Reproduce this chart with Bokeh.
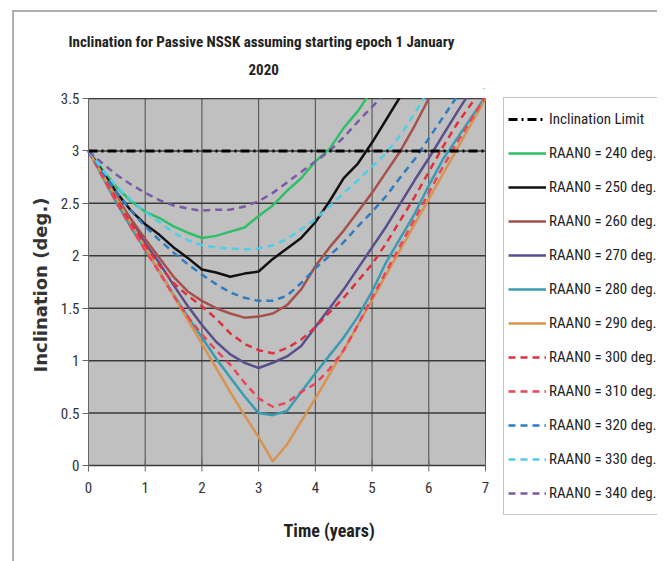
import math
from bokeh.plotting import figure
from bokeh.models import (Legend, LegendItem, Title, FixedTicker, Range1d, BoxAnnotation,
                          InlineStyleSheet)
from bokeh.core.properties import value
from bokeh.embed import file_html
from bokeh.resources import INLINE

# ---- data ----
years = [0.0, 0.25, 0.5, 0.75, 1.0, 1.25, 1.5, 1.75, 2.0, 2.25, 2.5, 2.75, 3.0, 3.25,
         3.5, 3.75, 4.0, 4.25, 4.5, 4.75, 5.0, 5.25, 5.5, 5.75, 6.0, 6.25, 6.5, 6.75, 7.0]

limit_x = [0.0, 7.0]
limit_y = [3.0, 3.0]

raan240 = [3.0, 2.82, 2.65, 2.52, 2.42, 2.36, 2.28, 2.22, 2.17, 2.19, 2.23, 2.27, 2.38, 2.48,
           2.62, 2.74, 2.9, 3.02, 3.22, 3.38, 3.58]
raan250 = [3.0, 2.8, 2.6, 2.43, 2.3, 2.2, 2.08, 1.98, 1.87, 1.84, 1.8, 1.83, 1.85, 1.97,
           2.07, 2.17, 2.32, 2.52, 2.74, 2.88, 3.08, 3.3, 3.52]
raan260 = [3.0, 2.78, 2.56, 2.35, 2.16, 1.98, 1.8, 1.66, 1.57, 1.5, 1.45, 1.41, 1.42, 1.45,
           1.53, 1.68, 1.9, 2.08, 2.24, 2.42, 2.6, 2.8, 3.0, 3.24, 3.5]
raan270 = [3.0, 2.77, 2.54, 2.32, 2.12, 1.93, 1.72, 1.52, 1.34, 1.18, 1.06, 0.98, 0.93, 0.98,
           1.04, 1.14, 1.32, 1.5, 1.68, 1.88, 2.08, 2.28, 2.5, 2.72, 2.93, 3.15, 3.37, 3.58]
raan280 = [3.0, 2.75, 2.5, 2.27, 2.06, 1.85, 1.63, 1.42, 1.22, 1.02, 0.84, 0.66, 0.5, 0.48,
           0.52, 0.7, 0.88, 1.05, 1.22, 1.42, 1.66, 1.94, 2.17, 2.4, 2.67, 2.92, 3.12, 3.32, 3.52]
raan290 = [3.0, 2.77, 2.54, 2.31, 2.08, 1.85, 1.62, 1.39, 1.16, 0.93, 0.7, 0.48, 0.27, 0.04,
           0.2, 0.42, 0.64, 0.87, 1.1, 1.34, 1.58, 1.82, 2.06, 2.3, 2.54, 2.78, 3.02, 3.26, 3.5]
raan300 = [3.0, 2.76, 2.53, 2.31, 2.1, 1.91, 1.74, 1.62, 1.52, 1.4, 1.26, 1.16, 1.1, 1.07,
           1.12, 1.2, 1.32, 1.46, 1.6, 1.76, 1.92, 2.12, 2.34, 2.56, 2.8, 3.04, 3.26, 3.45, 3.62]
raan310 = [3.0, 2.75, 2.5, 2.27, 2.05, 1.84, 1.62, 1.42, 1.25, 1.1, 0.96, 0.79, 0.64, 0.56,
           0.6, 0.7, 0.78, 0.92, 1.1, 1.34, 1.6, 1.85, 2.1, 2.35, 2.6, 2.85, 3.08, 3.3, 3.52]
raan320 = [3.0, 2.8, 2.6, 2.43, 2.28, 2.15, 2.03, 1.92, 1.82, 1.73, 1.65, 1.6, 1.57, 1.57,
           1.62, 1.74, 1.88, 2.0, 2.13, 2.28, 2.42, 2.57, 2.75, 2.92, 3.12, 3.32, 3.52]
raan330 = [3.0, 2.82, 2.66, 2.53, 2.42, 2.32, 2.22, 2.15, 2.1, 2.08, 2.07, 2.06, 2.07, 2.1,
           2.16, 2.25, 2.35, 2.47, 2.6, 2.72, 2.85, 2.98, 3.15, 3.36, 3.58]
raan340 = [3.0, 2.88, 2.77, 2.68, 2.6, 2.53, 2.48, 2.45, 2.43, 2.44, 2.44, 2.47, 2.52, 2.6,
           2.7, 2.8, 2.9, 3.0, 3.13, 3.28, 3.42, 3.56]

series_labels = ["RAAN0 = 240 deg.", "RAAN0 = 250 deg.", "RAAN0 = 260 deg.", "RAAN0 = 270 deg.",
                 "RAAN0 = 280 deg.", "RAAN0 = 290 deg.", "RAAN0 = 300 deg.", "RAAN0 = 310 deg.",
                 "RAAN0 = 320 deg.", "RAAN0 = 330 deg.", "RAAN0 = 340 deg."]
series_values = [raan240, raan250, raan260, raan270, raan280, raan290,
                 raan300, raan310, raan320, raan330, raan340]
series_colors = ["#2fbf6a", "#111111", "#a5514c", "#5a4e8c", "#3a9cb2", "#d8944e",
                 "#e0303e", "#e8465a", "#2f7cc0", "#52cde6", "#7a5aa6"]
series_dash = ["solid"] * 6 + ["7 5"] * 5

x_ticks = [0, 1, 2, 3, 4, 5, 6, 7]
y_ticks = [0, 0.5, 1, 1.5, 2, 2.5, 3, 3.5]
x_tick_labels = ["0", "1", "2", "3", "4", "5", "6", "7"]

COND = "Roboto Condensed"

# ---- layout (pixels) ----
W, H = 657, 561
FL, FT = 56, 88            # frame left / top
AX_L, AX_T = 88, 98        # left / top edge of the grey plotting area
PLOT_W, PLOT_H = 397, 367  # size of the grey plotting area
px_x = PLOT_W / (x_ticks[-1] - x_ticks[0])
px_y = PLOT_H / (y_ticks[-1] - y_ticks[0])
x_start = x_ticks[0] - (AX_L - FL) / px_x
x_end = x_ticks[-1] + (W - AX_L - PLOT_W) / px_x
y_end = y_ticks[-1] + (AX_T - FT) / px_y
y_start = y_ticks[0] - (H - AX_T - PLOT_H) / px_y

p = figure(width=W, height=H, x_range=Range1d(x_start, x_end),
           y_range=Range1d(y_start, y_end),
           output_backend="svg", toolbar_location=None, title=None, x_axis_location=None,
           min_border_left=FL, min_border_right=0, min_border_top=FT, min_border_bottom=0)

p.background_fill_color = "white"
p.border_fill_color = "white"
p.outline_line_color = None
p.grid.visible = False

plot_area = BoxAnnotation(left=x_ticks[0], right=x_ticks[-1], bottom=y_ticks[0], top=y_ticks[-1],
                          fill_color="#c0c0c0", fill_alpha=1.0, line_color="#7a7a7a",
                          line_width=1, level="image")
p.add_layout(plot_area)

# titles (stacked upward from the plot frame)
spacer_above = Title(text=" ", text_font_size="1px", standoff=0)
title2 = Title(text="2020", align="left", offset=AX_L - FL + 160, text_font=COND,
               text_font_size="15px", text_font_style="bold", text_color="#222222", standoff=22)
title1 = Title(text="Inclination for Passive NSSK assuming starting epoch 1 January",
               align="left", offset=AX_L - FL - 20, text_font=COND,
               text_font_size="15px", text_font_style="bold", text_color="#222222", standoff=0)
p.add_layout(spacer_above, "above")
p.add_layout(title2, "above")
p.add_layout(title1, "above")

# y axis, drawn at x = 0
p.yaxis.ticker = FixedTicker(ticks=y_ticks)
p.yaxis.bounds = (y_ticks[0], y_ticks[-1])
p.yaxis.fixed_location = x_ticks[0]
p.yaxis.axis_line_color = "#666666"
p.yaxis.major_tick_line_color = "#666666"
p.yaxis.minor_tick_line_color = None
p.yaxis.major_tick_out = 6
p.yaxis.major_tick_in = 0
p.yaxis.major_label_text_font = COND
p.yaxis.major_label_text_font_size = "15px"
p.yaxis.major_label_text_color = "#333333"
p.yaxis.major_label_standoff = 3

ytitle = Title(text="Inclination (deg.)", align="left", offset=H - 372,
               text_font="DejaVu Sans", text_font_size="18px", text_font_style="bold",
               text_color="#333333", standoff=12)
p.add_layout(ytitle, "left")

# grid lines limited to the grey plotting area
p.segment(x0=x_ticks, y0=[y_ticks[0]] * len(x_ticks), x1=x_ticks, y1=[y_ticks[-1]] * len(x_ticks),
          line_color="#4a4a4a", line_width=1)
p.segment(x0=[x_ticks[0]] * len(y_ticks), y0=y_ticks, x1=[x_ticks[-1]] * len(y_ticks), y1=y_ticks,
          line_color="#3a3a3a", line_width=1.5)

# x axis: ticks and labels along y = 0
p.scatter(x=x_ticks, y=[y_ticks[0]] * len(x_ticks), marker="dash", angle=math.pi / 2, size=12,
          line_color="#666666", line_width=1)
p.text(x=x_ticks, y=[y_ticks[0]] * len(x_ticks), text=x_tick_labels, text_align="center",
       text_baseline="top", y_offset=16, text_font=value(COND), text_font_size=value("15px"),
       text_color="#333333")
p.text(x=[3.44], y=[y_ticks[0]], text=["Time (years)"], text_align="left",
       text_baseline="middle", y_offset=65, text_font=value(COND),
       text_font_size=value("18px"), text_font_style="bold", text_color="#222222")

renderers = []
for lab, vals, col, dash in zip(series_labels, series_values, series_colors, series_dash):
    r = p.line(years[:len(vals)], vals, line_color=col, line_width=2.5, line_dash=dash)
    renderers.append((lab, r))

lim = p.line(limit_x, limit_y, line_color="#000000", line_width=3, line_dash="9 4 2 4")

# white mask hiding the parts of the curves above the axis maximum
mask = BoxAnnotation(left=x_ticks[0] - 1 / px_x, right=x_ticks[-1] + 2 / px_x,
                     bottom=y_ticks[-1] + 0.6 / px_y, top=None,
                     fill_color="white", fill_alpha=1.0, line_color=None, level="annotation")
p.add_layout(mask)

items = [LegendItem(label="Inclination Limit", renderers=[lim])]
for lab, r in renderers:
    items.append(LegendItem(label=lab, renderers=[r]))

# legend box: left edge 503 px, bottom edge 515 px
legend = Legend(items=items, location=(503 - FL, H - 515))
legend.label_text_font = COND
legend.label_text_font_size = "15px"
legend.label_text_color = "#222222"
legend.glyph_width = 38
legend.glyph_height = 34
legend.label_height = 34
legend.spacing = 0
legend.padding = 4
legend.margin = 0
legend.label_standoff = 3
legend.border_line_color = "#8a8a8a"
legend.background_fill_color = "white"
legend.background_fill_alpha = 1.0
p.add_layout(legend, "center")

p.stylesheets = [InlineStyleSheet(css=(
    ":host::before { content: ''; position: absolute; left: 12px; top: 10px; right: 0; "
    "bottom: 0; border-left: 2px solid #b0b0b0; border-top: 2px solid #b0b0b0; "
    "pointer-events: none; z-index: 10; }"))]

open("out.html", "w").write(file_html(p, INLINE))
